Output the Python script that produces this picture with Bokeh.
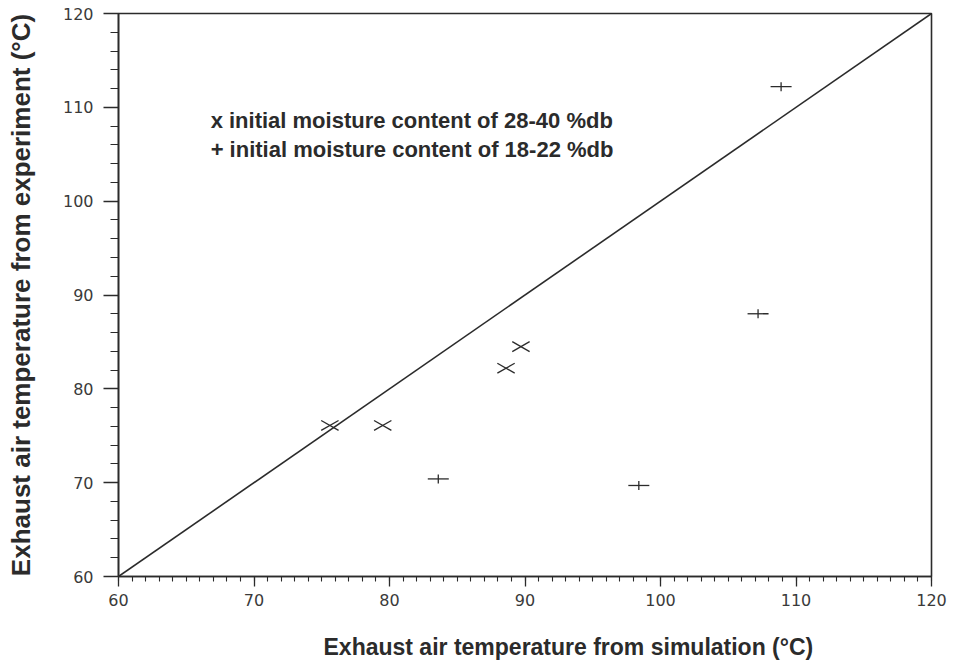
from bokeh.plotting import figure
from bokeh.models import Range1d, SingleIntervalTicker, Label, Title
from bokeh.embed import file_html
from bokeh.resources import INLINE

# Exhaust air temperature (deg C): simulation (x) vs experiment (y)
sim_high_mc = [75.6, 79.5, 88.6, 89.7]     # initial moisture 28-40 %db
exp_high_mc = [76.1, 76.1, 82.2, 84.5]
sim_low_mc = [83.6, 98.4, 107.2, 108.9]    # initial moisture 18-22 %db
exp_low_mc = [70.4, 69.7, 88.0, 112.2]
diag = [60, 120]                            # 1:1 line

legend_lines = ["x initial moisture content of 28-40 %db",
                "+ initial moisture content of 18-22 %db"]
x_title = "Exhaust air temperature from simulation (°C)"
y_title = "Exhaust air temperature from experiment (°C)"

INK = "#2b2b2b"

p = figure(width=964, height=664,
           x_range=Range1d(60, 120), y_range=Range1d(60, 120),
           output_backend="svg", toolbar_location=None,
           min_border_left=118, min_border_right=33,
           min_border_top=13, min_border_bottom=88)
p.background_fill_color = "white"
p.border_fill_color = "white"
p.outline_line_color = INK
p.outline_line_width = 1.6
p.xgrid.grid_line_color = None
p.ygrid.grid_line_color = None

# axes
p.xaxis.ticker = SingleIntervalTicker(interval=10, num_minor_ticks=10)
p.yaxis.ticker = SingleIntervalTicker(interval=10, num_minor_ticks=5)
for ax in (p.xaxis[0], p.yaxis[0]):
    ax.axis_line_color = INK
    ax.axis_line_width = 1.6
    ax.major_tick_line_color = INK
    ax.minor_tick_line_color = INK
    ax.major_tick_line_width = 1.3
    ax.minor_tick_line_width = 1.1
    ax.major_tick_in = 0
    ax.minor_tick_in = 0
    ax.major_label_text_font = "DejaVu Sans"
    ax.major_label_text_font_size = "16px"
    ax.major_label_text_color = "#3a3a3a"

p.xaxis.major_tick_out = 10
p.xaxis.minor_tick_out = 5
p.xaxis.major_label_standoff = 7
p.yaxis.major_tick_out = 15
p.yaxis.minor_tick_out = 8
p.yaxis.major_label_standoff = 10

p.yaxis.axis_label = y_title
p.yaxis.axis_label_text_font = "Liberation Sans"
p.yaxis.axis_label_text_font_style = "bold"
p.yaxis.axis_label_text_font_size = "26px"
p.yaxis.axis_label_text_color = INK
p.yaxis.axis_label_standoff = 24

# x title below the axis, starting a little right of the frame's left edge
p.add_layout(Title(text=x_title, align="left", offset=205,
                   padding=(0, 0, 23, 0), standoff=0,
                   text_font="Liberation Sans", text_font_style="bold",
                   text_font_size="23px", text_color=INK), "below")

# 1:1 reference line
p.line(diag, diag, line_color=INK, line_width=1.6)

# flattened "x" markers built from two slanted dashes
for ang in (0.52, -0.52):
    p.scatter(sim_high_mc, exp_high_mc, marker="dash", size=20, angle=ang,
              line_color=INK, line_width=1.3)

# wide "+" markers
p.scatter(sim_low_mc, exp_low_mc, marker="dash", size=21, angle=0,
          line_color=INK, line_width=1.3)
p.scatter(sim_low_mc, exp_low_mc, marker="dash", size=9, angle=1.5708,
          line_color=INK, line_width=1.3)

# key text
for txt, yy in zip(legend_lines, [108.6, 105.5]):
    p.add_layout(Label(x=66.8, y=yy, text=txt,
                       text_align="left", text_baseline="middle",
                       text_font="Liberation Sans", text_font_style="bold",
                       text_font_size="22px", text_color=INK))

open("out.html", "w").write(file_html(p, INLINE))
